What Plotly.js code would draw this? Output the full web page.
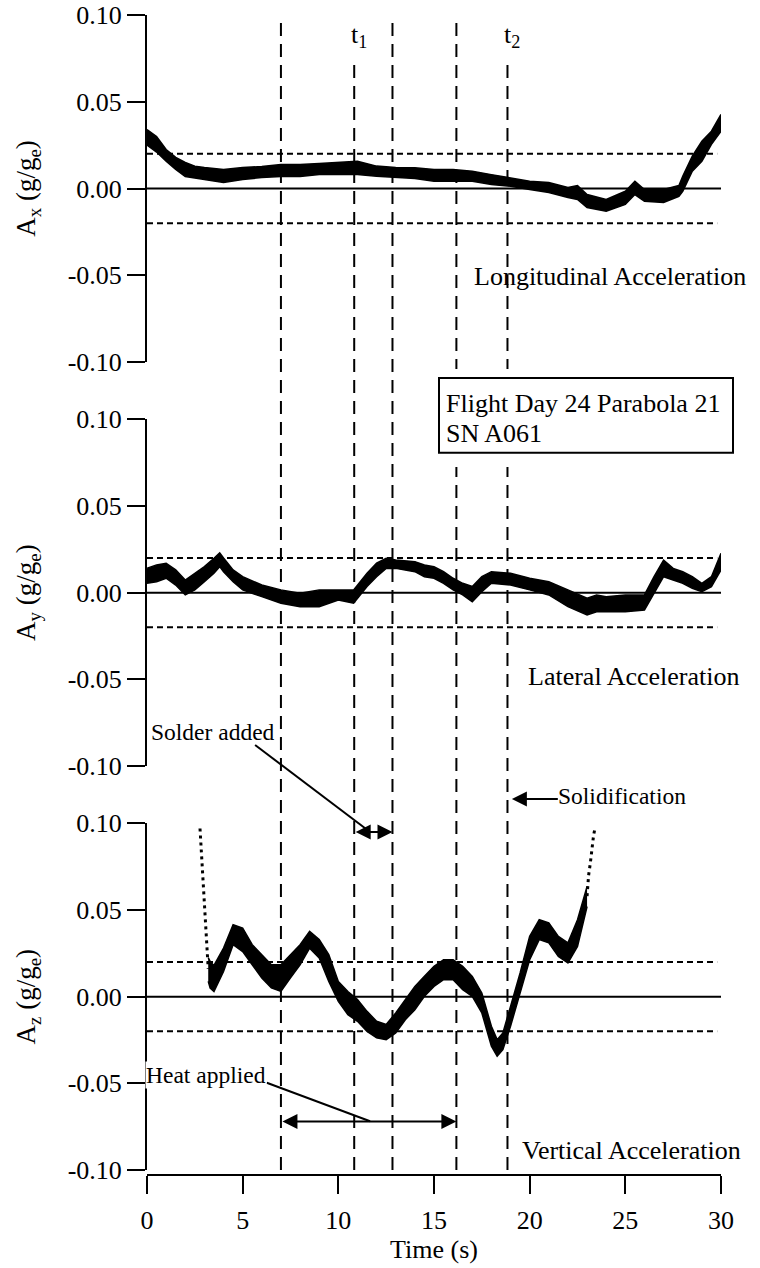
<!DOCTYPE html>
<html><head><meta charset="utf-8">
<script src="https://cdn.plot.ly/plotly-3.0.1.min.js"></script>
<style>html,body{margin:0;padding:0;background:#fff}</style>
</head><body><div id="chart" style="width:760px;height:1268px"></div>
<script>
// ---------------- DATA ----------------
// Longitudinal acceleration Ax : band of the dense point cloud (lower / upper edge)
const tLon = [0,0.5,1,1.5,2,2.5,3,4,5,6,7,8,9,10,11,12,13,14,15,16,17,18,19,20,21,22,22.5,23,24,25,25.5,26,27,27.8,28,28.5,29,29.5,30];
const lonHigh = [0.034,0.030,0.0225,0.0179,0.015,0.0129,0.0121,0.011,0.0121,0.0127,0.0138,0.0138,0.0144,0.015,0.0157,0.0129,0.0121,0.012,0.011,0.011,0.010,0.008,0.0063,0.0042,0.0035,0.0006,0.0017,-0.0035,-0.0063,-0.0016,0.0042,-0.0006,-0.0006,0.0017,0.0071,0.0186,0.0273,0.033,0.0427];
const lonLow = [0.025,0.021,0.0157,0.011,0.0069,0.0062,0.0052,0.0035,0.0052,0.0063,0.0069,0.0069,0.0081,0.0081,0.0081,0.0071,0.0063,0.0058,0.0042,0.0042,0.0042,0.0023,0.0013,-0.0006,-0.0023,-0.0052,-0.0063,-0.011,-0.0131,-0.0092,-0.0035,-0.0073,-0.0081,-0.0046,-0.0016,0.01,0.0157,0.0254,0.033];

// Lateral acceleration Ay
const tLat = [0,0.5,1,1.5,2,2.5,3,3.5,3.8,4,4.5,5,6,7,8,9,10,10.8,11.5,12,12.5,13,14,14.5,15,15.5,16,16.5,17,17.5,18,19,20,21,22,23,23.5,24,25,26,26.5,27,27.5,28,28.5,29,29.5,30];
const latHigh = [0.014,0.016,0.017,0.0131,0.0073,0.0112,0.015,0.0198,0.0229,0.020,0.0131,0.0092,0.0044,0.0016,-0.0003,0.0016,0.0016,0.0016,0.0112,0.017,0.0198,0.0188,0.0179,0.016,0.015,0.0121,0.0083,0.0054,0.0035,0.0092,0.0121,0.0112,0.0083,0.0063,0.0016,-0.0032,-0.0013,-0.0023,-0.0013,-0.0013,0.0092,0.0188,0.014,0.0121,0.0092,0.0054,0.0092,0.0227];
const latLow = [0.0054,0.0063,0.0083,0.0044,-0.0013,0.0016,0.0063,0.0112,0.015,0.0121,0.0063,0.0016,-0.0023,-0.0061,-0.0081,-0.0081,-0.0042,-0.0061,0.0035,0.0092,0.014,0.014,0.0121,0.0092,0.0083,0.0054,0.0016,-0.0013,-0.0052,0.0006,0.0054,0.0044,0.0016,-0.0013,-0.0081,-0.0128,-0.011,-0.011,-0.011,-0.010,-0.0003,0.0092,0.0073,0.0054,0.0025,0.0006,0.0035,0.013];

// Vertical acceleration Az (dense part)
const tVer = [3.2,3.3,3.5,4,4.5,5,5.5,6,6.5,7,7.5,8,8.5,9,9.5,10,10.5,11,11.5,12,12.5,13,13.5,14,14.5,15,15.5,16,16.5,17,17.5,18,18.3,18.6,19,19.5,20,20.5,21,21.5,22,22.5,23];
const verHigh = [0.0225,0.0203,0.018,0.028,0.0415,0.0396,0.030,0.0242,0.0184,0.0184,0.0242,0.030,0.0376,0.0329,0.0242,0.0088,0.003,-0.0017,-0.0085,-0.0142,-0.0161,-0.0094,-0.0017,0.0059,0.0117,0.0175,0.0213,0.0213,0.0175,0.0117,0.0021,-0.0171,-0.0248,-0.0209,-0.0056,0.0137,0.0348,0.0444,0.0425,0.0348,0.031,0.0444,0.0636];
const verLow = [0.0088,0.005,0.003,0.0146,0.030,0.026,0.0184,0.0108,0.005,0.003,0.0108,0.0184,0.028,0.0223,0.0088,-0.0027,-0.0104,-0.0142,-0.020,-0.0238,-0.0248,-0.0209,-0.0133,-0.0075,0.0002,0.0059,0.0098,0.0098,0.004,0.0002,-0.0094,-0.0286,-0.0344,-0.0305,-0.0171,0.0021,0.0213,0.0329,0.031,0.0232,0.0194,0.029,0.052];
// Vertical acceleration Az (sparse fast-changing parts)
const tVerStart = [2.77,2.82,2.88,2.95,3.03,3.12,3.2];
const verStart = [0.097,0.088,0.078,0.065,0.046,0.029,0.016];
const tVerEnd = [23.0,23.08,23.17,23.26,23.34,23.43];
const verEnd = [0.058,0.070,0.077,0.087,0.093,0.098];

// Event times (s) and tolerance band
const eventTimes = [7.0, 10.83, 12.83, 16.17, 18.84];
const eventLabels = ["", "t<sub>1</sub>", "", "", "t<sub>2</sub>"];
const tolerance = [0.02, -0.02];

const yTickVals = [-0.10,-0.05,0.00,0.05,0.10];
const yTickText = ["-0.10","-0.05","0.00","0.05","0.10"];
const xTickVals = [0,5,10,15,20,25,30];

const panelTitles = ["A<sub>x</sub> (g/g<sub>e</sub>)","A<sub>y</sub> (g/g<sub>e</sub>)","A<sub>z</sub> (g/g<sub>e</sub>)"];
const panelNames = ["Longitudinal Acceleration","Lateral Acceleration","Vertical Acceleration"];

// ---------------- LAYOUT HELPERS ----------------
const W = 760, H = 1268;
const mL = 147, mR = 39, mT = 15, mB = 93;
const L = mL, R = W - mR, T = mT, B = H - mB;
const px = x => (x - L) / (R - L);
const py = y => (B - y) / (B - T);
const FONT = "Liberation Serif, Times New Roman, serif";

// ---------------- TRACES ----------------
function band(t, lo, hi, yax) {
  return [
    {x: t, y: lo, xaxis: 'x', yaxis: yax, mode: 'lines', line: {color: 'black', width: 1.5}, hoverinfo: 'skip', showlegend: false},
    {x: t, y: hi, xaxis: 'x', yaxis: yax, mode: 'lines', fill: 'tonexty', fillcolor: 'black', line: {color: 'black', width: 1.5}, hoverinfo: 'skip', showlegend: false}
  ];
}
const traces = [
  ...band(tLon, lonLow, lonHigh, 'y'),
  ...band(tLat, latLow, latHigh, 'y2'),
  ...band(tVer, verLow, verHigh, 'y3'),
  {x: tVerStart, y: verStart, xaxis: 'x', yaxis: 'y3', mode: 'lines', line: {color: 'black', width: 3, dash: '3px,4px'}, showlegend: false, hoverinfo: 'skip'},
  {x: tVerEnd, y: verEnd, xaxis: 'x', yaxis: 'y3', mode: 'lines', line: {color: 'black', width: 3, dash: '3px,4px'}, showlegend: false, hoverinfo: 'skip'}
];

// ---------------- AXES ----------------
const yBase = {
  range: [-0.1, 0.1], showgrid: false, zeroline: false, showline: true, linewidth: 2, linecolor: 'black',
  ticks: 'outside', ticklen: 18, tickwidth: 2, tickcolor: 'black',
  tickvals: yTickVals, ticktext: yTickText, tickfont: {family: FONT, size: 26, color: 'black'},
  anchor: 'x', fixedrange: true
};
const domains = [[py(362), py(15)], [py(766), py(419.3)], [py(1170), py(823.3)]];
const yaxes = {};
['yaxis','yaxis2','yaxis3'].forEach((k, i) => {
  yaxes[k] = Object.assign({}, yBase, {
    domain: domains[i],
    title: {text: panelTitles[i], font: {family: FONT, size: 27, color: 'black'}, standoff: 24}
  });
});

// ---------------- SHAPES ----------------
const shapes = [];
const yrefs = ['y','y2','y3'];
yrefs.forEach(yr => {
  shapes.push({type: 'line', xref: 'x', yref: yr, x0: 0, x1: 30, y0: 0, y1: 0, line: {color: 'black', width: 2}});
  tolerance.forEach(v => shapes.push({type: 'line', xref: 'x', yref: yr, x0: 0, x1: 29.8, y0: v, y1: v, line: {color: 'black', width: 2, dash: '6px,4px'}}));
});
eventTimes.forEach((t, i) => {
  shapes.push({type: 'line', xref: 'x', yref: 'paper', x0: t, x1: t, y0: py(1170), y1: eventLabels[i] ? py(60) : py(17),
    line: {color: 'black', width: 2, dash: '13px,8px'}});
});
// white-out behind the info box, then the box
shapes.push({type: 'rect', xref: 'paper', yref: 'paper', x0: px(439), x1: px(733), y0: py(467), y1: py(369), fillcolor: 'white', line: {width: 0}});
shapes.push({type: 'rect', xref: 'paper', yref: 'paper', x0: px(439), x1: px(733), y0: py(452.7), y1: py(378), fillcolor: 'white', line: {color: 'black', width: 2}});
// leader lines
shapes.push({type: 'line', xref: 'x', yref: 'paper', x0: 5.65, x1: 11.66, y0: py(745), y1: py(832), line: {color: 'black', width: 2}});
shapes.push({type: 'line', xref: 'x', yref: 'y3', x0: 6.26, x1: 11.66, y0: -0.0497, y1: -0.0719, line: {color: 'black', width: 2}});

// ---------------- ANNOTATIONS ----------------
const ann = [];
function txt(text, x, y, size, extra) {
  ann.push(Object.assign({text: text, xref: 'paper', yref: 'paper', x: px(x), y: py(y), xanchor: 'left', yanchor: 'middle',
    showarrow: false, font: {family: FONT, size: size, color: 'black'}, borderpad: 0}, extra || {}));
}
txt(panelNames[0], 473, 276.7, 26);
txt(panelNames[1], 527, 676.7, 26);
txt(panelNames[2], 521, 1150, 26);
txt("Flight Day 24 Parabola 21", 445, 403, 26);
txt("SN A061", 445, 433, 26);
txt("Solder added", 150, 731.7, 23.5);
txt("Heat applied", 145, 1075, 23.5, {bgcolor: 'white'});
txt("Solidification", 556.5, 796, 23.5);
eventTimes.forEach((t, i) => {
  if (eventLabels[i]) ann.push({text: eventLabels[i], xref: 'x', yref: 'paper', x: t, y: py(36), xanchor: 'center', yanchor: 'middle', xshift: 5,
    showarrow: false, font: {family: FONT, size: 26, color: 'black'}});
});
function arrow(x, y, yref, ax, both) {
  ann.push({text: '', xref: 'x', yref: yref, x: x, y: y, axref: 'x', ax: ax, ayref: 'pixel', ay: 0,
    showarrow: true, arrowhead: 2, arrowsize: 1.5, arrowwidth: 2, arrowcolor: 'black',
    arrowside: both ? 'end+start' : 'end', startarrowhead: 2, startarrowsize: 1.5, standoff: 0, startstandoff: 0});
}
arrow(eventTimes[2], 0.095, 'y3', eventTimes[1], true);      // solder added
arrow(eventTimes[3], -0.072, 'y3', eventTimes[0], true);     // heat applied
arrow(19.07, py(799), 'paper', 21.55, false);                // solidification

const layout = Object.assign({
  width: W, height: H,
  margin: {l: mL, r: mR, t: mT, b: mB, pad: 0},
  paper_bgcolor: 'white', plot_bgcolor: 'rgba(0,0,0,0)',
  showlegend: false,
  font: {family: FONT, size: 26, color: 'black'},
  xaxis: {
    range: [0, 30], anchor: 'free', position: 0, showgrid: false, zeroline: false, showline: true, linewidth: 2, linecolor: 'black',
    ticks: 'outside', ticklen: 18, tickwidth: 2, tickcolor: 'black', tickvals: xTickVals, ticklabelstandoff: 4,
    tickfont: {family: FONT, size: 26, color: 'black'},
    title: {text: 'Time (s)', font: {family: FONT, size: 26, color: 'black'}, standoff: 0}, fixedrange: true
  },
  shapes: shapes,
  annotations: ann
}, yaxes);

Plotly.newPlot('chart', traces, layout, {displayModeBar: false, staticPlot: true});
</script></body></html>
